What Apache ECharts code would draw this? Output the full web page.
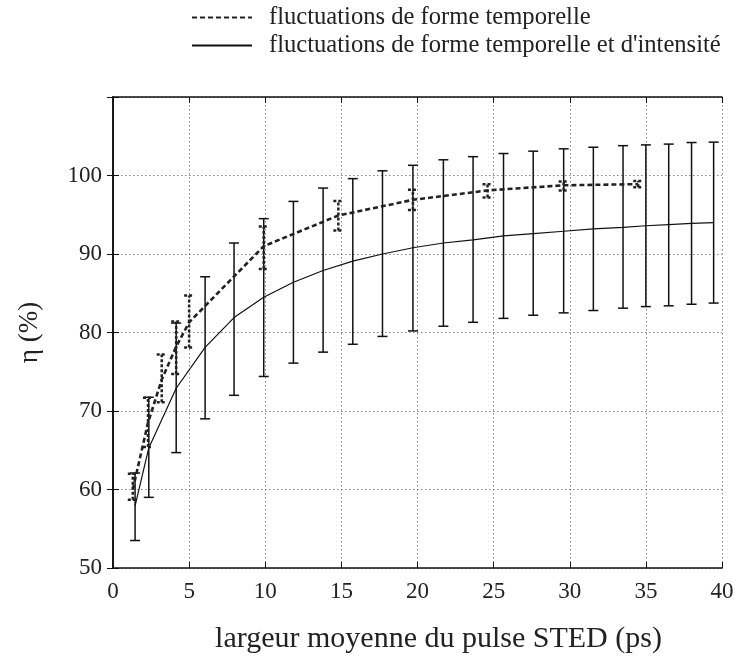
<!DOCTYPE html>
<html>
<head>
<meta charset="utf-8">
<script src="https://cdn.jsdelivr.net/npm/echarts@6/dist/echarts.min.js"></script>
<style>html,body{margin:0;padding:0;background:#fff}#c{width:739px;height:659px}</style>
</head>
<body>
<div id="c"></div>
<script>
// Series "fluctuations de forme temporelle et d'intensité" (solid line with error bars)
const solidX    = [1.45, 2.35, 4.15, 6.05, 7.95, 9.9, 11.85, 13.8, 15.75, 17.7, 19.7, 21.7, 23.65, 25.65, 27.6, 29.6, 31.55, 33.5, 35.0, 36.5, 38.0, 39.45];
const solidY    = [57.9, 65.3, 72.9, 78.1, 81.9, 84.5, 86.4, 87.9, 89.1, 90.0, 90.8, 91.4, 91.8, 92.3, 92.6, 92.9, 93.2, 93.4, 93.6, 93.75, 93.9, 94.0];
const solidLow  = [53.5, 59.0, 64.7, 69.0, 72.0, 74.4, 76.1, 77.5, 78.5, 79.5, 80.2, 80.8, 81.3, 81.8, 82.2, 82.5, 82.8, 83.1, 83.3, 83.4, 83.6, 83.75];
const solidHigh = [62.1, 71.75, 81.2, 87.1, 91.4, 94.5, 96.7, 98.4, 99.6, 100.6, 101.3, 102.0, 102.4, 102.8, 103.1, 103.4, 103.6, 103.8, 103.9, 104.0, 104.2, 104.25];

// Series "fluctuations de forme temporelle" (dotted line with error bars)
const dotX    = [1.3, 2.3, 3.2, 4.15, 5.0, 9.9, 14.8, 19.7, 24.6, 29.6, 34.5];
const dotY    = [60.0, 68.5, 74.0, 78.2, 81.3, 91.0, 94.9, 96.9, 98.1, 98.75, 98.9];
const dotLow  = [58.7, 65.4, 71.1, 74.7, 78.1, 88.1, 93.0, 95.6, 97.2, 98.1, 98.5];
const dotHigh = [62.0, 71.7, 77.2, 81.4, 84.7, 93.5, 96.75, 98.2, 98.9, 99.25, 99.3];

const seriesNames = ['fluctuations de forme temporelle', "fluctuations de forme temporelle et d'intensité"];
const xTitle = 'largeur moyenne du pulse STED (ps)';
const yTitle = 'η (%)';

const FONT = "'Liberation Serif', 'DejaVu Serif', serif";
const chart = echarts.init(document.getElementById('c'), null, {renderer: 'canvas'});

function errorBars(xs, lows, highs, style, half) {
  return {
    type: 'custom',
    silent: true,
    z: 3,
    data: xs.map((x, i) => [x, lows[i], highs[i]]),
    renderItem: function (params, api) {
      const lo = api.coord([api.value(0), api.value(1)]);
      const hi = api.coord([api.value(0), api.value(2)]);
      return {
        type: 'group',
        children: [
          {type: 'line', shape: {x1: lo[0], y1: lo[1], x2: hi[0], y2: hi[1]}, style: style},
          {type: 'line', shape: {x1: lo[0] - half, y1: lo[1], x2: lo[0] + half, y2: lo[1]}, style: style},
          {type: 'line', shape: {x1: hi[0] - half, y1: hi[1], x2: hi[0] + half, y2: hi[1]}, style: style}
        ]
      };
    }
  };
}

const gridLine = {show: true, lineStyle: {color: '#666', width: 0.8, type: [1.5, 2.5]}};
const axisLineStyle = {show: true, lineStyle: {color: '#111', width: 1.6}};

const option = {
  backgroundColor: '#fff',
  animation: false,
  grid: {left: 113, right: 17, top: 97, bottom: 82, containLabel: false},
  legend: {
    data: seriesNames,
    orient: 'vertical',
    left: 186,
    top: 0,
    itemWidth: 60,
    itemHeight: 14,
    itemGap: 3,
    itemStyle: {opacity: 0},
    textStyle: {fontFamily: FONT, fontSize: 24.6, color: '#222', padding: [0, 0, 0, 12]}
  },
  xAxis: [{
    type: 'value', min: 0, max: 40, interval: 5, position: 'bottom',
    axisLine: axisLineStyle,
    axisTick: {show: true, inside: true, length: 6, lineStyle: {color: '#111', width: 1}},
    axisLabel: {fontFamily: FONT, fontSize: 23, color: '#222', margin: 12},
    splitLine: gridLine,
    name: xTitle, nameLocation: 'middle', nameGap: 56,
    nameTextStyle: {fontFamily: FONT, fontSize: 30, color: '#222', padding: [0, 0, 0, 42]}
  }, {
    type: 'value', min: 0, max: 40, interval: 5, position: 'top',
    axisLine: axisLineStyle,
    axisTick: {show: true, inside: true, length: 6, lineStyle: {color: '#111', width: 1}},
    axisLabel: {show: false}, splitLine: {show: false}
  }],
  yAxis: [{
    type: 'value', min: 50, max: 110, interval: 10, position: 'left',
    axisLine: axisLineStyle,
    axisTick: {show: true, inside: true, length: 6, lineStyle: {color: '#111', width: 1}},
    axisLabel: {fontFamily: FONT, fontSize: 23, color: '#222', margin: 11,
      formatter: v => (v > 100 ? '' : String(v))},
    splitLine: gridLine,
    name: yTitle, nameLocation: 'middle', nameGap: 70, nameRotate: 90,
    nameTextStyle: {fontFamily: FONT, fontSize: 27, color: '#222'}
  }, {
    type: 'value', min: 50, max: 110, interval: 10, position: 'right',
    axisLine: axisLineStyle,
    axisTick: {show: true, inside: true, length: 6, lineStyle: {color: '#111', width: 1}},
    axisLabel: {show: false}, splitLine: {show: false}
  }],
  series: [
    {
      name: seriesNames[0], type: 'line', symbol: 'none', z: 4,
      data: dotX.map((x, i) => [x, dotY[i]]),
      lineStyle: {color: '#222', width: 2.6, type: [5, 3]},
      itemStyle: {color: '#222'}
    },
    {
      name: seriesNames[1], type: 'line', symbol: 'none', z: 4,
      data: solidX.map((x, i) => [x, solidY[i]]),
      lineStyle: {color: '#111', width: 1.2, type: 'solid'},
      itemStyle: {color: '#111'}
    },
    errorBars(solidX, solidLow, solidHigh, {stroke: '#111', lineWidth: 1.5}, 5),
    errorBars(dotX, dotLow, dotHigh, {stroke: '#222', lineWidth: 2.5, lineDash: [3, 2]}, 5)
  ]
};
chart.setOption(option);
</script>
</body>
</html>
